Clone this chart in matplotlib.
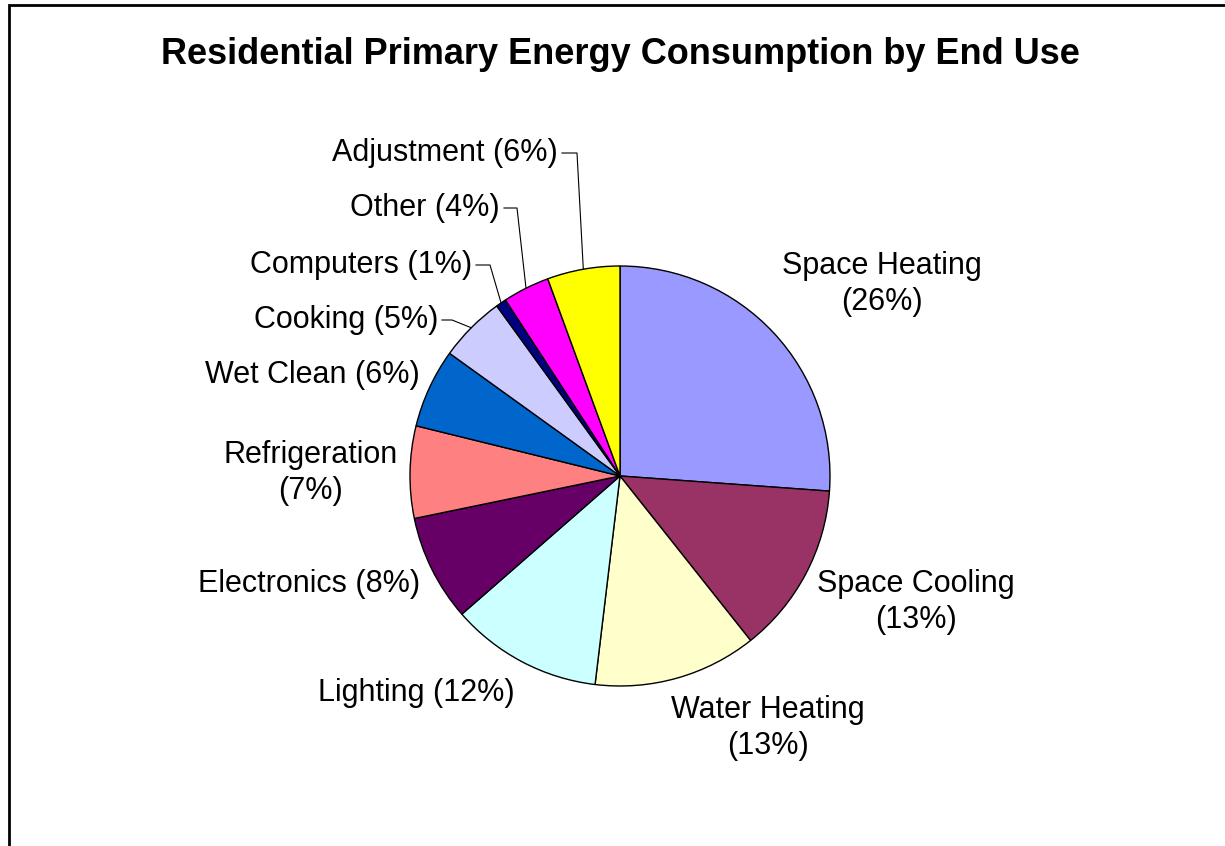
import numpy as np
import matplotlib
matplotlib.use("Agg")
import matplotlib.pyplot as plt
from matplotlib.patches import Rectangle

plt.rcParams['font.family'] = ['Liberation Sans', 'DejaVu Sans']

# shares of residential primary energy by end use (%)
end_uses = ['Space Heating', 'Space Cooling', 'Water Heating', 'Lighting',
            'Electronics', 'Refrigeration', 'Wet Clean', 'Cooking',
            'Computers', 'Other', 'Adjustment']
shares = [26.2, 13.2, 12.6, 11.7, 8.2, 7.1, 6.1, 5.1, 0.8, 3.6, 5.6]
colors = ['#9999FF', '#993366', '#FFFFCC', '#CCFFFF', '#660066', '#FF8080',
          '#0066CC', '#CCCCFF', '#000080', '#FF00FF', '#FFFF00']

W, H = 1225, 846
fig = plt.figure(figsize=(W / 100, H / 100), dpi=100)
ax = fig.add_axes([0, 0, 1, 1])

cx, cy, R = 620, 476, 210
# y axis runs top-down, so counterclock in data space is clockwise on screen
wedges, _ = ax.pie(shares, colors=colors, startangle=-90, counterclock=True,
                   center=(cx, cy), radius=R,
                   wedgeprops=dict(edgecolor='black', linewidth=1.0))
ax.set_xlim(0, W)
ax.set_ylim(H, 0)
ax.set_aspect('auto')
ax.axis('off')

# label placement: (x, y, ha, two-line)
place = {
    'Space Heating': (882, 284, 'center', True),
    'Space Cooling': (916, 602, 'center', True),
    'Water Heating': (768, 728, 'center', True),
    'Lighting': (515, 693, 'right', False),
    'Electronics': (420, 584, 'right', False),
    'Refrigeration': (311, 473, 'center', True),
    'Wet Clean': (420, 375, 'right', False),
    'Cooking': (438, 320, 'right', False),
    'Computers': (472, 265, 'right', False),
    'Other': (500, 208, 'right', False),
    'Adjustment': (558, 153, 'right', False),
}
# elbow x of the leader lines for the thin slices
elbow = {'Cooking': 452, 'Computers': 490, 'Other': 517, 'Adjustment': 577}

for name, v, w in zip(end_uses, shares, wedges):
    x, y, ha, two = place[name]
    sep = '\n' if two else ' '
    ax.text(x, y, f"{name}{sep}({v:.0f}%)", ha=ha, va='center', fontsize=22,
            linespacing=1.25)
    if name in elbow:
        mid = np.deg2rad((w.theta1 + w.theta2) / 2)
        ex = cx + R * np.cos(mid)
        ey = cy + R * np.sin(mid)
        ax.plot([x + 4, elbow[name], ex], [y, y, ey], color='black', lw=0.8)

ax.text(cx, 55, 'Residential Primary Energy Consumption by End Use',
        ha='center', va='center', fontsize=26, fontweight='bold')

fig.add_artist(Rectangle((9 / W, -0.1), 1.2, 1.1 - 5 / H, transform=fig.transFigure,
                         fill=False, edgecolor='black', linewidth=2))

fig.savefig('out.png', dpi=100, facecolor='white')
